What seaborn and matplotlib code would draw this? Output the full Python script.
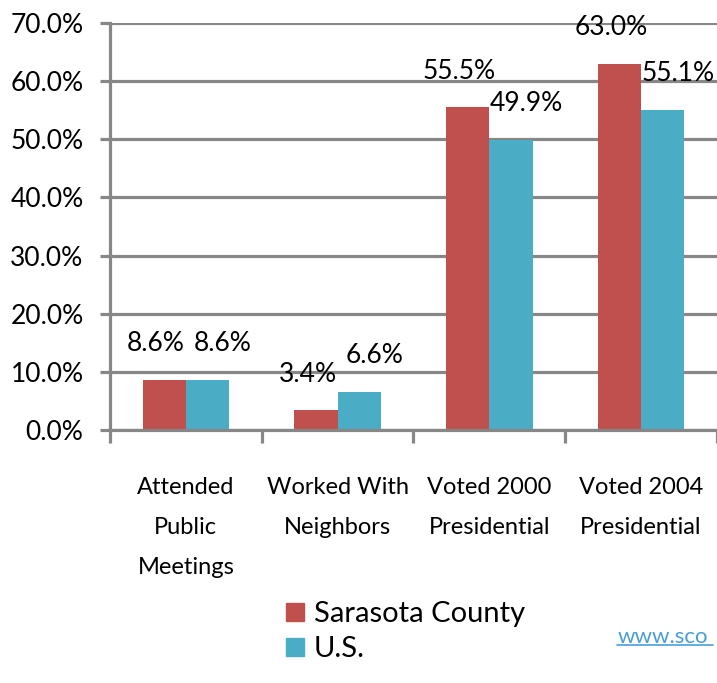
import pandas as pd
import numpy as np
import matplotlib.pyplot as plt
import seaborn as sns
from matplotlib.patches import Patch

# data (percent)
categories = ["Attended\nPublic\nMeetings", "Worked With\nNeighbors",
              "Voted 2000\nPresidential", "Voted 2004\nPresidential"]
sarasota = [8.6, 3.4, 55.5, 63.0]
us = [8.6, 6.6, 49.9, 55.1]
series = ["Sarasota County", "U.S."]
colors = ["#C0504D", "#4BACC6"]

df = pd.DataFrame({
    "category": categories * 2,
    "value": sarasota + us,
    "series": [series[0]] * 4 + [series[1]] * 4,
})

sns.set_style("white")
plt.rcParams["font.family"] = ["Lato", "DejaVu Sans"]

fig = plt.figure(figsize=(7.17, 6.83), dpi=100)
ax = fig.add_axes([0.1534, 0.3704, 0.8466, 0.5959])

sns.barplot(data=df, x="category", y="value", hue="series",
            palette=colors, width=0.57, gap=0, linewidth=0,
            saturation=1, legend=False, ax=ax)

grey = "#878787"
ax.set_ylim(0, 70)
ax.set_xlim(-0.5, 3.5)
ax.set_yticks(np.arange(0, 71, 10))
ax.set_yticklabels([f"{v:.1f}%" for v in np.arange(0, 71, 10)])
ax.yaxis.grid(True, color=grey, linewidth=2.3)
ax.set_axisbelow(True)
for s in ["top", "right"]:
    ax.spines[s].set_visible(False)
for s in ["left", "bottom"]:
    ax.spines[s].set_color(grey)
    ax.spines[s].set_linewidth(2.3)
ax.tick_params(axis="y", length=7, width=2.3, color=grey, pad=12,
               labelsize=19, labelcolor="black", left=True)
ax.set_xticks(np.arange(-0.5, 3.6, 1), minor=True)
ax.tick_params(axis="x", which="minor", length=9, width=2.3, color=grey,
               bottom=True)
ax.tick_params(axis="x", which="major", length=0, pad=34, labelsize=17,
               labelcolor="black")
for lab in ax.get_xticklabels():
    lab.set_linespacing(2.1)
    lab.set_verticalalignment("top")
ax.set_xlabel("")
ax.set_ylabel("")

# value labels above bars
offsets = [-6, 11]
for cont, off in zip(ax.containers, offsets):
    for bar in cont:
        h = bar.get_height()
        ax.annotate(f"{h:.1f}%", (bar.get_x() + bar.get_width() / 2, h),
                    xytext=(off, 17), textcoords="offset points",
                    ha="center", va="bottom", fontsize=19, color="black")

handles = [Patch(color=c) for c in colors]
fig.legend(handles, series, loc="upper left", bbox_to_anchor=(0.383, 0.137),
           frameon=False, fontsize=21, handlelength=0.6, handleheight=0.6,
           handletextpad=0.35, labelspacing=0.32, borderaxespad=0,
           labelcolor="black")

fig.text(0.861, 0.058, "www.sco", color="#4A9ED8", fontsize=16,
         ha="left", va="baseline")
fig.add_artist(plt.Line2D([0.861, 0.994], [0.055, 0.055], color="#4A9ED8",
                          linewidth=1.2, transform=fig.transFigure))

fig.savefig("out.png", dpi=100)
